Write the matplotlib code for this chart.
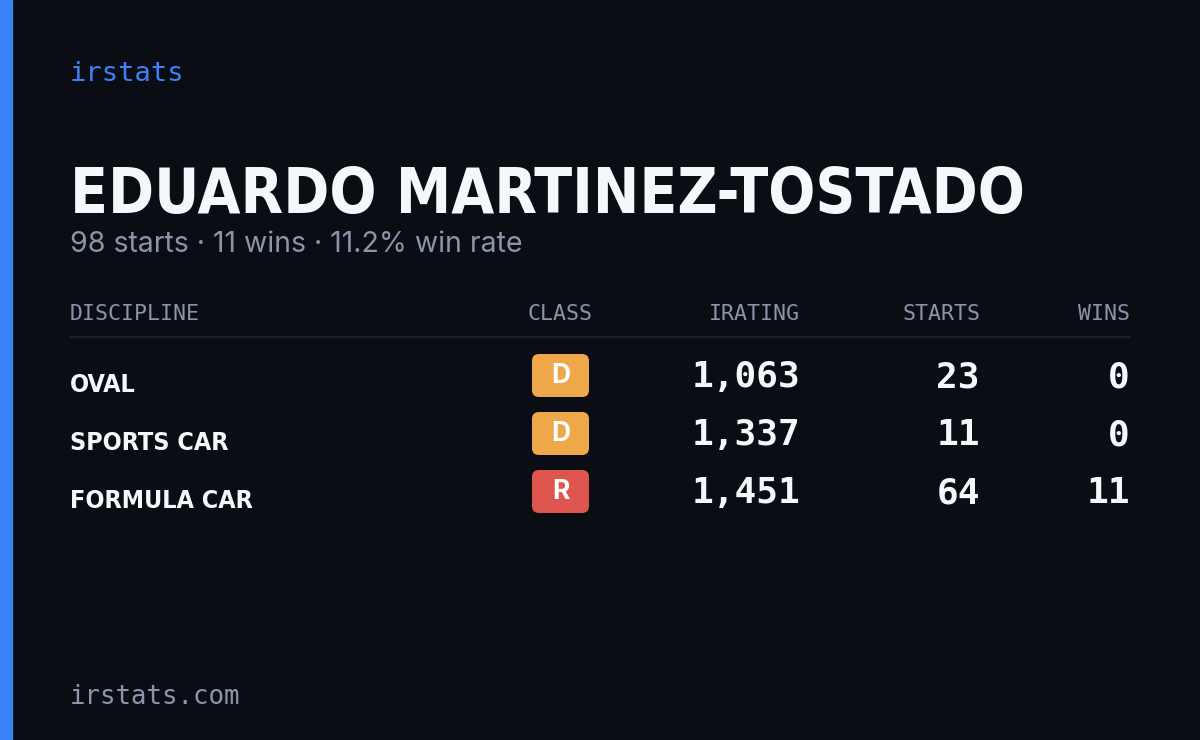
import matplotlib
matplotlib.use("Agg")
import matplotlib.pyplot as plt
from matplotlib.patches import FancyBboxPatch, Rectangle

name = "EDUARDO MARTINEZ-TOSTADO"
subtitle = "98 starts · 11 wins · 11.2% win rate"
headers = ["DISCIPLINE", "CLASS", "IRATING", "STARTS", "WINS"]
disciplines = ["OVAL", "SPORTS CAR", "FORMULA CAR"]
classes = ["D", "D", "R"]
iratings = [1063, 1337, 1451]
starts = [23, 11, 64]
wins = [0, 0, 11]
class_colors = {"D": "#eea84a", "R": "#de554e"}

BG = "#0a0d14"; GRAY = "#8b95a8"; BLUE = "#3b82f6"; WHITE = "#f5f7fb"
COND = ["DejaVu Sans"]
MONO = ["DejaVu Sans Mono"]

fig = plt.figure(figsize=(12, 7.4), dpi=100, facecolor=BG)
ax = fig.add_axes([0, 0, 1, 1])
ax.set_xlim(0, 1200); ax.set_ylim(740, 0); ax.axis("off")
ax.add_patch(Rectangle((0, 0), 12, 740, color=BLUE))

ax.text(70, 74, "irstats", color=BLUE, fontsize=19.5, family=MONO, va="center")
ax.text(70, 213, name, color=WHITE, fontsize=44.5, family=COND, weight="bold",
        fontstretch="condensed", va="baseline")
ax.text(70, 245, subtitle, color=GRAY, fontsize=20.5, family=["Inter", "DejaVu Sans"], va="center")

hx = [70, 560, 800, 980, 1130]
ha = ["left", "center", "right", "right", "right"]
for h, x, a in zip(headers, hx, ha):
    ax.text(x, 314, h, color=GRAY, fontsize=15.5, family=MONO, ha=a, va="center")
ax.plot([70, 1130], [337, 337], color="#1c2130", lw=1.5)

ys = [377, 435, 493]
for i, y in enumerate(ys):
    ax.text(70, y + 8, disciplines[i], color=WHITE, fontsize=18, family=COND, weight="bold",
            fontstretch="condensed", va="center")
    ax.add_patch(FancyBboxPatch((532, y - 23), 57, 43, boxstyle="round,pad=0,rounding_size=7",
                                color=class_colors[classes[i]], lw=0))
    ax.text(560.5, y - 1, classes[i], color="white", fontsize=19, weight="bold",
            family=["Inter", "DejaVu Sans"], ha="center", va="center")
    for x, v in zip(hx[2:], [iratings[i], starts[i], wins[i]]):
        ax.text(x, y, f"{v:,}", color=WHITE, fontsize=26, family=MONO, weight="bold",
                ha="right", va="center")

ax.text(70, 697, "irstats.com", color=GRAY, fontsize=18.5, family=MONO, va="center")
fig.savefig("out.png", dpi=100, facecolor=BG)
